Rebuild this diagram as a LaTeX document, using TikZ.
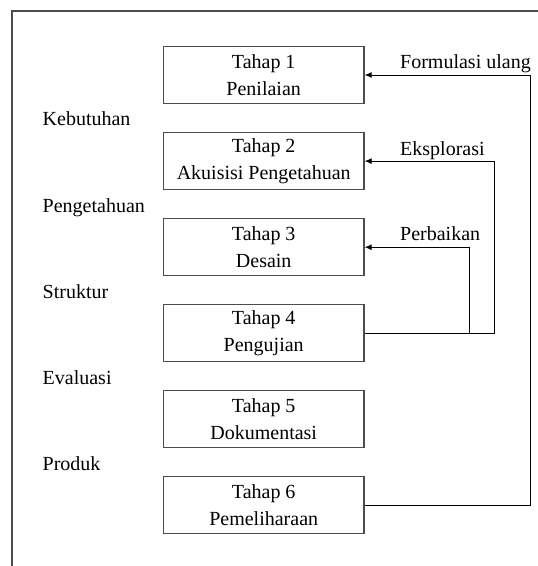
\documentclass[tikz,border=0pt]{standalone}
\usepackage{fontspec}
\setmainfont{Liberation Serif}
\usetikzlibrary{arrows.meta}
\begin{document}
\begin{tikzpicture}[x=1pt,y=-1pt,
  stagebox/.style={draw=black!70,line width=1.2pt,minimum width=200.7pt,minimum height=57pt,inner sep=0pt,align=center,font=\fontsize{20}{27}\selectfont},
  sidelabel/.style={anchor=base west,inner sep=0pt,font=\fontsize{20}{24}\selectfont},
  flowlabel/.style={anchor=base west,inner sep=0pt,font=\fontsize{20}{24}\selectfont},
  arr/.style={draw=black,line width=0.9pt,-{Latex[length=7pt,width=6pt]}},
  frameline/.style={draw=black!70,line width=1.3pt}]
\useasboundingbox (0,0) rectangle (538,566);
\coordinate (fc) at (12,11);
\coordinate (fr) at (538,11);
\coordinate (fb) at (12,566);
\draw[frameline] (fb) -- (fc) -- (fr);
\node[stagebox] (b1) at (263.7,75) {Tahap 1\\Penilaian};
\node[stagebox] (b2) at (263.7,161.1) {Tahap 2\\Akuisisi Pengetahuan};
\node[stagebox] (b3) at (263.7,247.2) {Tahap 3\\Desain};
\node[stagebox] (b4) at (263.7,333.2) {Tahap 4\\Pengujian};
\node[stagebox] (b5) at (263.7,419.3) {Tahap 5\\Dokumentasi};
\node[stagebox] (b6) at (263.7,505.3) {Tahap 6\\Pemeliharaan};
\node[sidelabel] (l1) at (42.5,125.7) {Kebutuhan};
\node[sidelabel] (l2) at (42.5,212) {Pengetahuan};
\node[sidelabel] (l3) at (42.5,298.3) {Struktur};
\node[sidelabel] (l4) at (42.5,384.6) {Evaluasi};
\node[sidelabel] (l5) at (42.5,470.8) {Produk};
\coordinate (xf) at (530.7,0);
\coordinate (xe) at (494.3,0);
\coordinate (xp) at (469.3,0);
\draw[arr] (b6.east) -- (b6.east -| xf) -- (b1.east -| xf) -- (b1.east);
\draw[arr] (b4.east) -- (b4.east -| xe) -- (b2.east -| xe) -- (b2.east);
\draw[arr] (b4.east -| xp) -- (b3.east -| xp) -- (b3.east);
\node[flowlabel] (t1) at (400,68.3) {Formulasi ulang};
\node[flowlabel] (t2) at (400,155) {Eksplorasi};
\node[flowlabel] (t3) at (400,240.3) {Perbaikan};
\end{tikzpicture}
\end{document}
